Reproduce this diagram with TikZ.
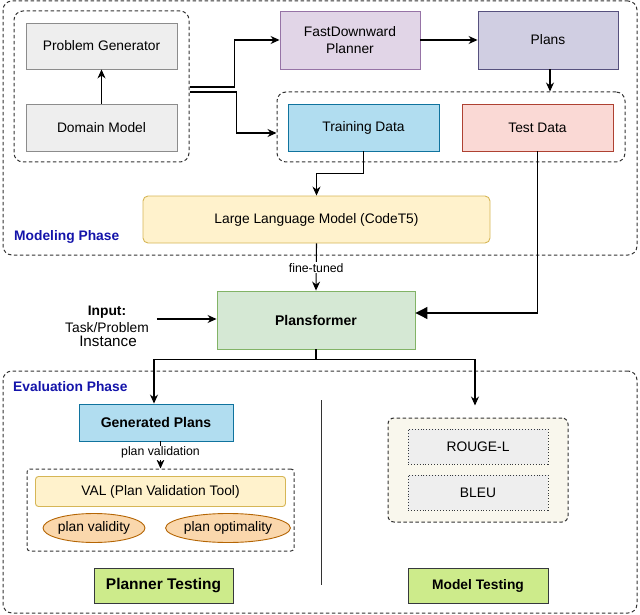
\documentclass[tikz,border=0pt]{standalone}
\usepackage{fontspec}
\setmainfont{Liberation Sans}
\usetikzlibrary{arrows.meta,shapes.geometric}
\definecolor{grayfill}{HTML}{EEEEEE}
\definecolor{grayline}{HTML}{8C8C8C}
\definecolor{fdfill}{HTML}{E1D5E7}
\definecolor{fdline}{HTML}{9673A6}
\definecolor{plfill}{HTML}{D0CEE2}
\definecolor{plline}{HTML}{56517E}
\definecolor{bluefill}{HTML}{B1DDF0}
\definecolor{blueline}{HTML}{10739E}
\definecolor{redfill}{HTML}{FAD9D5}
\definecolor{redline}{HTML}{AE4132}
\definecolor{yelfill}{HTML}{FFF2CC}
\definecolor{yelline}{HTML}{D6B656}
\definecolor{grnfill}{HTML}{D5E8D4}
\definecolor{grnline}{HTML}{82B366}
\definecolor{orfill}{HTML}{FAD7AC}
\definecolor{orline}{HTML}{B46504}
\definecolor{limefill}{HTML}{CDEB8B}
\definecolor{darkline}{HTML}{36393D}
\definecolor{creamfill}{HTML}{F9F7ED}
\definecolor{phaseblue}{HTML}{1414AA}
\definecolor{dashcol}{HTML}{333333}
\tikzset{
  base/.style={font=\fontsize{13.8}{16}\selectfont},
  box/.style={base, draw, rectangle, line width=0.9pt, inner sep=0pt, align=center},
  grp/.style={draw=dashcol, dash pattern=on 3.5pt off 2.5pt, line width=1pt, rounded corners=9pt, rectangle, inner sep=0pt},
  arr/.style={-{Stealth[length=9pt,width=8pt]}, line width=1.1pt},
  line/.style={line width=1.1pt},
  lbl/.style={fill=white, inner sep=1pt, font=\fontsize{12.3}{14}\selectfont},
  phase/.style={anchor=west, text=phaseblue, font=\fontsize{13.8}{16}\selectfont\bfseries, inner sep=0pt},
}
\begin{document}
\begin{tikzpicture}[x=1pt,y=-1pt]
\useasboundingbox (0,0) rectangle (640,615);
% modeling phase
\node[grp, minimum width=634, minimum height=254] (mgrpouter) at (320,128) {};
\node[grp, minimum width=175, minimum height=151] (leftgrp) at (101.5,86.5) {};
\node[box, fill=grayfill, draw=grayline, minimum width=151, minimum height=46] (pg) at (101.5,46) {Problem Generator};
\node[box, fill=grayfill, draw=grayline, minimum width=151, minimum height=47] (dm) at (101.5,127.5) {Domain Model};
\node[box, fill=fdfill, draw=fdline, minimum width=140, minimum height=58, font=\fontsize{13.8}{17}\selectfont] (fd) at (350,40) {FastDownward\\Planner};
\node[box, fill=plfill, draw=plline, minimum width=140, minimum height=58] (plans) at (548,40) {Plans};
\node[grp, minimum width=348, minimum height=70] (datagrp) at (451,127) {};
\node[box, fill=bluefill, draw=blueline, minimum width=151, minimum height=47] (td) at (363.5,127.5) {Training Data};
\node[box, fill=redfill, draw=redline, minimum width=151, minimum height=47] (test) at (537.5,127.5) {Test Data};
\node[box, fill=yelfill, draw=yelline, rounded corners=5pt, minimum width=347, minimum height=47] (llm) at (316.5,219.5) {Large Language Model (CodeT5)};
\node[phase] (mphase) at (14,237) {Modeling Phase};
% middle
\node[box, fill=grnfill, draw=grnline, minimum width=198, minimum height=58, font=\fontsize{14}{16}\selectfont\bfseries] (pf) at (316,320) {Plansformer};
\node[base, align=center, inner sep=0pt] (input) at (107,326.5) {{\bfseries Input:}\\[1pt]Task/Problem\\[-2pt]{\fontsize{15.2}{15}\selectfont\hspace*{2pt}Instance}};
% evaluation phase
\node[grp, minimum width=634, minimum height=242] (egrp) at (320,492) {};
\node[phase] (ephase) at (13,387) {Evaluation Phase};
\node[box, fill=bluefill, draw=blueline, minimum width=154, minimum height=37, font=\fontsize{14}{16}\selectfont\bfseries] (gp) at (156,422.5) {Generated Plans};
\node[grp, rounded corners=3pt, minimum width=267, minimum height=82] (valgrp) at (160.5,510) {};
\node[box, fill=yelfill, draw=yelline, rounded corners=3pt, minimum width=250, minimum height=30] (val) at (160.5,491.5) {VAL (Plan Validation Tool)};
\node[base, draw=orline, fill=orfill, ellipse, line width=0.9pt, minimum width=98, minimum height=29, inner sep=0pt] (pv) at (94,528) {plan validity};
\node[base, draw=orline, fill=orfill, ellipse, line width=0.9pt, minimum width=100, minimum height=29, inner sep=0pt] (po) at (228,528) {plan optimality};
\node[box, fill=limefill, draw=darkline, minimum width=139, minimum height=35, font=\fontsize{15.5}{17}\selectfont\bfseries] (pt) at (163.5,585.5) {Planner Testing};
\draw[line width=1pt, draw=dashcol] (321,400) -- (321,585);
\node[grp, fill=creamfill, rounded corners=6pt, minimum width=180, minimum height=104] (mgrp) at (478,470) {};
\node[box, fill=grayfill, draw=darkline, dotted, minimum width=140, minimum height=35] (rouge) at (478,446.5) {ROUGE-L};
\node[box, fill=grayfill, draw=darkline, dotted, minimum width=140, minimum height=35] (bleu) at (478,492.5) {BLEU};
\node[box, fill=limefill, draw=darkline, minimum width=140, minimum height=35, font=\fontsize{13.8}{16}\selectfont\bfseries] (mt) at (478,585.5) {Model Testing};
% connectors
\draw[arr] (dm.north) -- (pg.south);
\draw[line] ([yshift=-0.5pt]leftgrp.east) -- ++(45,0) coordinate (j1);
\draw[arr] (j1) |- (fd.west);
\draw[line] ([yshift=-5.5pt]leftgrp.east) -- ++(47,0) coordinate (j2);
\draw[arr] (j2) |- ([yshift=-6pt]datagrp.west);
\draw[arr] (fd.east) -- (plans.west);
\draw[arr] ([xshift=2pt]plans.south) -- ([xshift=2pt]plans.south |- datagrp.north);
\draw[arr] (td.south) -- ++(0,22) -| (llm.north);
\draw[arr] (llm.south) -- node[lbl, pos=0.52] {fine-tuned} (pf.north);
\draw[-{Triangle[length=12pt,width=12pt]}, line width=1.1pt] (test.south) |- ([yshift=7pt]pf.east);
\draw[arr, shorten <=8pt] ([yshift=1pt]input.east |- pf.west) -- ([yshift=1pt]pf.west);
\draw[arr] (pf.south) -- ++(0,10) -| ([xshift=-2pt]gp.north);
\draw[arr, shorten >=12pt] (pf.south) -- ++(0,10) -| ([xshift=-3pt]mgrp.north);
\draw[arr] (gp.south -| valgrp.north) -- node[lbl, pos=0.42] {plan validation} (valgrp.north);
\end{tikzpicture}
\end{document}
